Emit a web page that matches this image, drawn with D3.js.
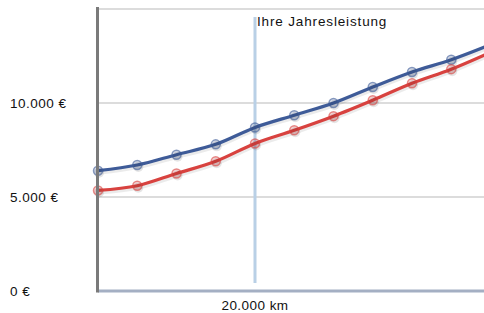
<!DOCTYPE html>
<html><head><meta charset="utf-8">
<script src="https://cdn.jsdelivr.net/npm/d3@7"></script>
<style>
html,body{margin:0;padding:0;background:#fff;}
svg{display:block;font-family:"Liberation Sans",Arial,Helvetica,sans-serif;}
</style></head>
<body>
<svg id="chart" width="484" height="313"></svg>
<script>
const kmValues = [0,5000,10000,15000,20000,25000,30000,35000,40000,45000,50000];
const seriesBlue = [6400,6700,7250,7800,8700,9350,10000,10850,11650,12300,13100];
const seriesRed  = [5350,5600,6250,6900,7850,8550,9300,10150,11050,11800,12700];
const yTicks = [0,5000,10000];
const yTickLabels = ["0 €","5.000 €","10.000 €"];
const gridValues = [5000,10000,15000];
const markerKm = 20000;
const markerLabel = "Ihre Jahresleistung";
const xLabel = "20.000 km";

const svg = d3.select("#chart");
const W = 484, H = 313;
const x = d3.scaleLinear().domain([0,50000]).range([98,490.5]);
const y = d3.scaleLinear().domain([0,15000]).range([291,9]);

svg.append("defs").append("clipPath").attr("id","clip")
  .append("rect").attr("x",0).attr("y",0).attr("width",W).attr("height",H);

// gridlines
svg.append("g").selectAll("line").data(gridValues).join("line")
  .attr("x1",98).attr("x2",W).attr("y1",d=>y(d)).attr("y2",d=>y(d))
  .attr("stroke","#dcdcdc").attr("stroke-width",2);

// y tick labels
svg.append("g").selectAll("text").data(yTicks).join("text")
  .attr("x",10).attr("y",d=>y(d)).attr("dy","0.35em")
  .attr("font-size",13.5).attr("letter-spacing","0.5px").attr("fill","#111")
  .text((d,i)=>yTickLabels[i]);

// vertical marker line
svg.append("line")
  .attr("x1",x(markerKm)).attr("x2",x(markerKm))
  .attr("y1",17).attr("y2",283)
  .attr("stroke","#b9d0e6").attr("stroke-width",3);

svg.append("text").attr("x",x(markerKm)+2).attr("y",26)
  .attr("font-size",13.5).attr("letter-spacing","0.85px").attr("fill","#111")
  .text(markerLabel);

svg.append("text").attr("x",x(markerKm)).attr("y",310).attr("text-anchor","middle")
  .attr("font-size",13.5).attr("letter-spacing","0.45px").attr("fill","#111")
  .text(xLabel);

const line = d3.line().x((d,i)=>x(kmValues[i])).y(d=>y(d)).curve(d3.curveMonotoneX);
const series = [
  {vals: seriesBlue, color:"#3e5b98"},
  {vals: seriesRed, color:"#d8423f"}
];
const plot = svg.append("g").attr("clip-path","url(#clip)");
series.forEach(s=>{
  plot.append("path").attr("d",line(s.vals)).attr("fill","none")
    .attr("stroke","#000").attr("stroke-opacity",0.08).attr("stroke-width",4)
    .attr("transform","translate(1,2)");
});
series.forEach(s=>{
  plot.append("path").attr("d",line(s.vals)).attr("fill","none")
    .attr("stroke",s.color).attr("stroke-width",3.2);
});
series.forEach(s=>{
  const g = plot.append("g");
  g.selectAll("circle.sh").data(s.vals).join("circle").attr("class","sh")
    .attr("cx",(d,i)=>x(kmValues[i])+1).attr("cy",d=>y(d)+2).attr("r",5)
    .attr("fill","#000").attr("fill-opacity",0.1);
  g.selectAll("circle.m").data(s.vals).join("circle").attr("class","m")
    .attr("cx",(d,i)=>x(kmValues[i])).attr("cy",d=>y(d)).attr("r",4.5)
    .attr("fill",s.color).attr("fill-opacity",0.22)
    .attr("stroke",s.color).attr("stroke-opacity",0.6).attr("stroke-width",1.5);
});

// axes
svg.append("line").attr("x1",98).attr("x2",W).attr("y1",291).attr("y2",291)
  .attr("stroke","#a4afc3").attr("stroke-width",3);
svg.append("line").attr("x1",97.5).attr("x2",97.5).attr("y1",7).attr("y2",292.5)
  .attr("stroke","#7a7a7a").attr("stroke-width",3);
</script>
</body></html>
